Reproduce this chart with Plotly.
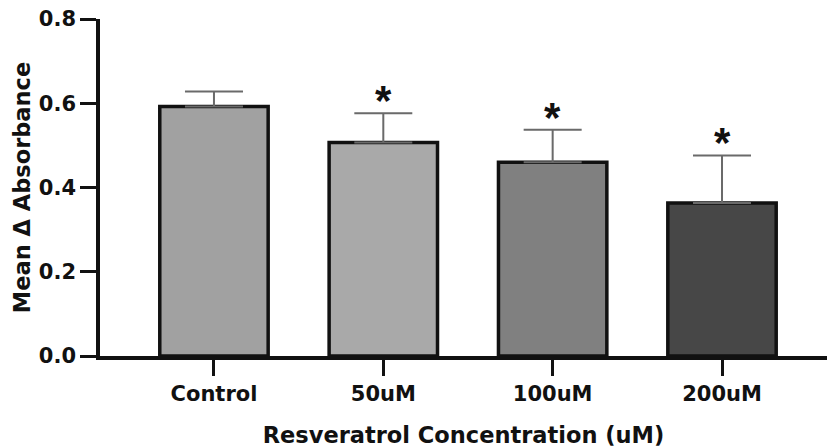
import plotly.graph_objects as go

categories = ["Control", "50uM", "100uM", "200uM"]
means = [0.592, 0.507, 0.460, 0.363]
errors = [0.036, 0.069, 0.077, 0.113]
significant = [False, True, True, True]
bar_colors = ["#a1a1a1", "#a9a9a9", "#808080", "#474747"]
y_ticks = [0.0, 0.2, 0.4, 0.6, 0.8]
y_tick_labels = ["0.0", "0.2", "0.4", "0.6", "0.8"]

font_family = "DejaVu Sans, sans-serif"
ast_family = "Liberation Sans, Arial, sans-serif"

fig = go.Figure()
fig.add_trace(go.Bar(
    x=list(range(len(categories))),
    y=means,
    width=0.64,
    marker=dict(color=bar_colors, line=dict(color="#111111", width=3.5)),
    error_y=dict(type="data", symmetric=False, array=errors,
                 arrayminus=[0] * len(errors),
                 color="#6a6a6a", thickness=2, width=29),
    showlegend=False,
))

for i, (m, e, s) in enumerate(zip(means, errors, significant)):
    if s:
        fig.add_annotation(x=i, y=m + e, text="<b>*</b>", showarrow=False,
                           xref="x", yref="y", yanchor="bottom", yshift=-13,
                           font=dict(family=ast_family, size=42, color="#111111"))

fig.update_layout(
    width=827, height=448,
    margin=dict(l=100, r=0, t=19, b=92),
    paper_bgcolor="white", plot_bgcolor="white",
    font=dict(family=font_family, color="#111111"),
)
fig.update_xaxes(
    range=[-0.673, 3.62],
    tickmode="array", tickvals=list(range(len(categories))),
    ticktext=["<b>%s</b>" % c for c in categories],
    tickfont=dict(size=21, family=font_family, color="#111111"),
    ticks="outside", ticklen=16, tickwidth=3, tickcolor="#111111",
    showline=True, linecolor="#111111", linewidth=3.5,
    showgrid=False, zeroline=False,
    title=dict(text="<b>Resveratrol Concentration (uM)</b>",
               font=dict(size=22.5, family=font_family, color="#111111"), standoff=24),
    automargin=False,
)
fig.update_yaxes(
    range=[0, 0.8],
    tickmode="array", tickvals=y_ticks,
    ticktext=["<b>%s</b>" % t for t in y_tick_labels],
    tickfont=dict(size=21, family=font_family, color="#111111"),
    ticks="outside", ticklen=16, tickwidth=3, tickcolor="#111111",
    showline=True, linecolor="#111111", linewidth=3.5,
    showgrid=False, zeroline=False,
    title=dict(text="<b>Mean Δ Absorbance</b>",
               font=dict(size=22.5, family=font_family, color="#111111"), standoff=3),
    automargin=False,
)

fig.write_html("out.html", config={"displayModeBar": False},
               post_script="document.body.style.margin='0';")
